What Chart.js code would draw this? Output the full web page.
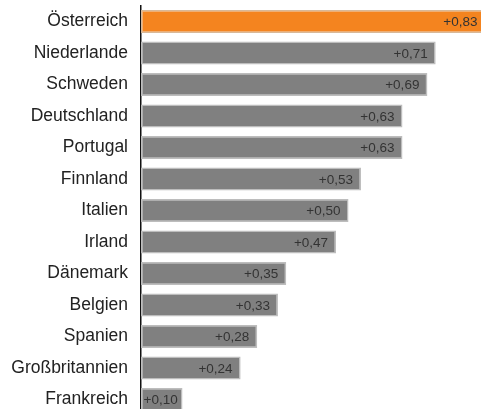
<!DOCTYPE html>
<html lang="de">
<head>
  <meta charset="UTF-8" />
  <title>Länder</title>
  <script src="https://cdn.jsdelivr.net/npm/chart.js"></script>
  <style>
    html, body { margin: 0; padding: 0; background: #fff; overflow: hidden; }
    .wrap { width: 481px; height: 409px; overflow: hidden; }
  </style>
</head>
<body>
  <div class="wrap"><canvas id="chart" width="490" height="416"></canvas></div>

  <script>
    const countries = ['Österreich', 'Niederlande', 'Schweden', 'Deutschland', 'Portugal', 'Finnland',
      'Italien', 'Irland', 'Dänemark', 'Belgien', 'Spanien', 'Großbritannien', 'Frankreich'];
    const values = [0.83, 0.71, 0.69, 0.63, 0.63, 0.53, 0.50, 0.47, 0.35, 0.33, 0.28, 0.24, 0.10];
    const highlight = 'Österreich';

    const fmt = v => '+' + v.toFixed(2).replace('.', ',');

    // value labels at the end of each bar (kept inside the bar for short ones)
    const valueLabels = {
      id: 'valueLabels',
      afterDatasetsDraw(chart) {
        const ctx = chart.ctx;
        const meta = chart.getDatasetMeta(0);
        ctx.save();
        ctx.font = '13.5px "Liberation Sans", Arial, sans-serif';
        ctx.fillStyle = '#333';
        ctx.textAlign = 'right';
        ctx.textBaseline = 'middle';
        meta.data.forEach((bar, i) => {
          const txt = fmt(values[i]);
          const w = ctx.measureText(txt).width;
          const x = Math.max(bar.x - 8, bar.base + 2.5 + w);
          ctx.fillText(txt, x, bar.y + 1);
        });
        ctx.restore();
      }
    };

    new Chart(document.getElementById('chart'), {
      type: 'bar',
      data: {
        labels: countries,
        datasets: [{
          data: values,
          backgroundColor: countries.map(c => c === highlight ? '#F4841F' : '#808080'),
          borderColor: countries.map(c => c === highlight ? '#D8B898' : '#BDBDBD'),
          borderWidth: 1.5,
          borderSkipped: false,
          barPercentage: 0.73,
          categoryPercentage: 1
        }]
      },
      options: {
        indexAxis: 'y',
        responsive: false,
        animation: false,
        layout: { padding: { top: 5.75, bottom: 0.75, right: 4.5, left: 0 } },
        plugins: {
          legend: { display: false },
          tooltip: { enabled: false }
        },
        scales: {
          x: {
            display: false,
            min: 0,
            max: 0.83
          },
          y: {
            afterFit(scale) {
              scale.width = 141;
              scale.paddingTop = 0;
              scale.paddingBottom = 0;
            },
            grid: { display: false, drawTicks: false },
            border: { display: true, color: '#111', width: 1.5 },
            ticks: {
              padding: 13,
              color: '#222',
              font: { family: '"Liberation Sans", Arial, sans-serif', size: 17.5 }
            }
          }
        }
      },
      plugins: [valueLabels]
    });
  </script>
</body>
</html>
